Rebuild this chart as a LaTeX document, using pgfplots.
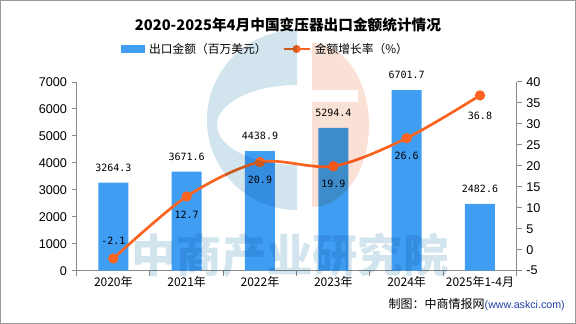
\documentclass[border=0pt]{standalone}
\usepackage{fontspec}
\usepackage{pgfplots}
\usepackage{pgfplotstable}
\pgfplotsset{compat=1.18}
\setmainfont{Liberation Sans}
\newfontfamily\cjk{Noto Sans CJK SC}
\newfontfamily\monofont{DejaVu Sans Mono}
\definecolor{barblue}{HTML}{409EF2}
\definecolor{lineorange}{HTML}{FA6420}
\definecolor{axgray}{HTML}{8A8A8A}
\definecolor{wmblue}{HTML}{D2E4EE}
\definecolor{wmorange}{HTML}{FAE1D5}
\definecolor{urlblue}{HTML}{1F3FA8}

\pgfplotstableread{
x amount growth
0 3264.3 -2.1
1 3671.6 12.7
2 4438.9 20.9
3 5294.4 19.9
4 6701.7 26.6
5 2482.6 36.8
}\datatable

\pgfplotsset{
  common/.style={
    at={(57.5pt,40pt)}, anchor=south west,
    scale only axis, width=330pt, height=141.5pt,
    xmin=-0.5, xmax=5.5,
    axis line style={axgray, line width=0.75pt},
    tick align=outside, major tick length=3.75pt,
    tick style={axgray, line width=0.75pt},
    yticklabel style={font=\fontsize{9.5}{11}\selectfont, text=black},
    /pgf/number format/assume math mode=true,
    /pgf/number format/1000 sep={},
    scaled y ticks=false,
  }
}

\begin{document}
\begin{tikzpicture}[x=1pt,y=1pt]
\useasboundingbox (0,0) rectangle (432,243);
\fill[white] (0,0) rectangle (432,243);

\node[font=\cjk\bfseries\fontsize{11}{13}\selectfont] at (216,224.25) {2020-2025年4月中国变压器出口金额统计情况};

\begin{axis}[common,
  ymin=0, ymax=7000,
  axis x line*=bottom, axis y line*=left,
  xtick={-0.5,0.5,...,5.5}, xticklabels={,,,,,,,},
  extra x ticks={0,1,2,3,4,5},
  extra x tick labels={2020年,2021年,2022年,2023年,2024年,2025年1-4月},
  extra x tick style={major tick length=0pt, xticklabel style={font=\cjk\fontsize{9}{10}\selectfont, yshift=-1pt}},
  ytick={0,1000,...,7000},
  legend columns=2,
  legend cell align=left,
  legend style={at={(0.1007,1.175)}, anchor=west, draw=none, fill=none, inner sep=0pt,
    font=\cjk\fontsize{8.8}{10}\selectfont,
    /tikz/every even column/.append style={column sep=9.75pt},
    /tikz/every odd column/.append style={column sep=1pt}},
]
\addplot[ybar, bar width=22.5pt, bar shift=0pt, fill=barblue, draw=none,
  point meta=explicit symbolic,
  nodes near coords,
  nodes near coords style={font=\monofont\fontsize{7.5}{9}\selectfont, anchor=south, inner sep=0pt, yshift=8pt, text=black},
  legend image code/.code={\fill[barblue] (0pt,-3pt) rectangle (18pt,3pt);}]
  table[x=x, y=amount, meta=amount]{\datatable};
\addlegendentry{出口金额（百万美元）}
\addlegendimage{legend image code/.code={\draw[lineorange,line width=2pt] (0pt,0pt)--(19.5pt,0pt); \fill[lineorange] (9.75pt,0pt) circle (2.8pt);}}
\addlegendentry{金额增长率（\%）}
\end{axis}

\begin{axis}[common,
  ymin=-5, ymax=40,
  axis y line*=right, axis x line=none,
  ytick={-5,0,...,40},
]
\addplot[lineorange, line width=2pt, smooth, mark=*, mark size=2.8pt,
  mark options={fill=lineorange, draw=lineorange}]
  table[x=x, y=growth]{\datatable};
\tikzset{lbl/.style={font=\monofont\fontsize{7.5}{9}\selectfont, text=black, inner sep=0pt}}
\node[lbl, yshift=13.5pt] at (axis cs:0,-2.1) {-2.1};
\node[lbl, yshift=-13.5pt] at (axis cs:1,12.7) {12.7};
\node[lbl, yshift=-13.5pt] at (axis cs:2,20.9) {20.9};
\node[lbl, yshift=-13.5pt] at (axis cs:3,19.9) {19.9};
\node[lbl, yshift=-13.5pt] at (axis cs:4,26.6) {26.6};
\node[lbl, yshift=-15pt] at (axis cs:5,36.8) {36.8};
\end{axis}

\begin{scope}[blend mode=multiply]
  \begin{scope}
    \clip (140,70) rectangle (222.75,230);
    \fill[wmblue, even odd rule] (222.75,153) circle (67.5) (222.75,149.25) ellipse (60 and 30);
  \end{scope}
  \fill[wmorange, even odd rule] (234,210.75) arc[start angle=90, end angle=-90, x radius=42.75, y radius=61.5] -- cycle
     (234,175.5) rectangle (268.5,166.5);
  \node[font=\cjk\bfseries\fontsize{34}{36}\selectfont, text=wmblue] at (217.5,51.75) {中商产业研究院};
\end{scope}

\node[anchor=east, inner sep=0pt] at (423.75,14.25) {\cjk\fontsize{9}{10}\selectfont 制图：中商情报网\fontsize{8}{10}\selectfont\rmfamily\color{urlblue}(www.askci.com)};

\draw[gray!80, line width=0.75pt] (0.375,0.375) rectangle (431.625,242.625);
\end{tikzpicture}
\end{document}
